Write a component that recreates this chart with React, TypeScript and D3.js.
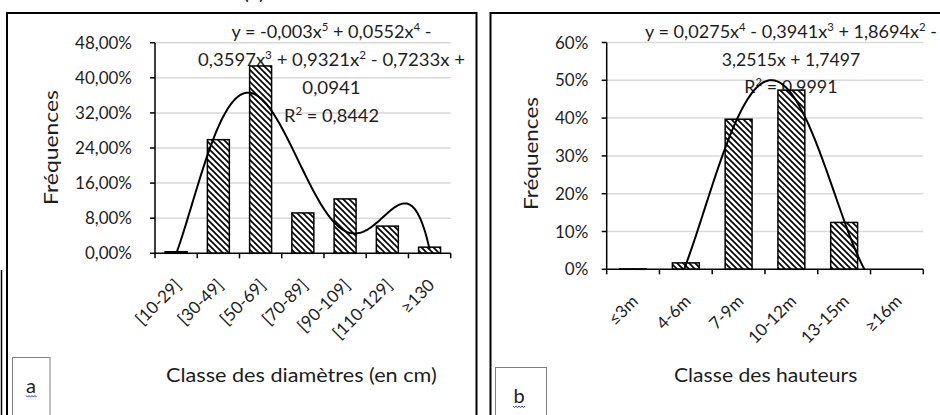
import React from "react";
import * as d3 from "d3";

// ---------- DATA ----------
const diamCategories = ["[10-29]", "[30-49]", "[50-69]", "[70-89]", "[90-109]", "[110-129]", "≥130"];
const diamFrequencies = [0.0035, 0.259, 0.427, 0.092, 0.124, 0.062, 0.014];
const diamTicks = [0, 0.08, 0.16, 0.24, 0.32, 0.4, 0.48];
const diamEquation = ["y = -0,003x^5 + 0,0552x^4 -", "0,3597x^3 + 0,9321x^2 - 0,7233x +", "0,0941", "R^2 = 0,8442"];
const diamAxisTitle = "Classe des diamètres (en cm)";

const heightCategories = ["≤3m", "4-6m", "7-9m", "10-12m", "13-15m", "≥16m"];
const heightFrequencies = [0.001, 0.017, 0.397, 0.474, 0.124, 0];
const heightTicks = [0, 0.1, 0.2, 0.3, 0.4, 0.5, 0.6];
const heightEquation = ["y = 0,0275x^4 - 0,3941x^3 + 1,8694x^2 -", "3,2515x + 1,7497", "R^2 = 0,9991"];
const heightAxisTitle = "Classe des hauteurs";

const yTitle = "Fréquences";

// ---------- HELPERS ----------
function polyfit(ys: number[], degree: number): number[] {
  const n = ys.length;
  const m = degree + 1;
  const A: number[][] = Array.from({ length: m }, () => new Array(m + 1).fill(0));
  for (let i = 0; i < n; i++) {
    const x = i + 1;
    for (let r = 0; r < m; r++) {
      for (let c = 0; c < m; c++) A[r][c] += Math.pow(x, r + c);
      A[r][m] += ys[i] * Math.pow(x, r);
    }
  }
  for (let col = 0; col < m; col++) {
    let piv = col;
    for (let r = col + 1; r < m; r++) if (Math.abs(A[r][col]) > Math.abs(A[piv][col])) piv = r;
    const tmp = A[col]; A[col] = A[piv]; A[piv] = tmp;
    for (let r = 0; r < m; r++) {
      if (r === col) continue;
      const f = A[r][col] / A[col][col];
      for (let c = col; c <= m; c++) A[r][c] -= f * A[col][c];
    }
  }
  return A.map((row, i) => row[m] / row[i]);
}
const polyEval = (coef: number[], x: number) => coef.reduce((s, c, k) => s + c * Math.pow(x, k), 0);

const FONT = "Lato, 'Open Sans', sans-serif";
const TEXT = "#1e1e1e";

type PanelCfg = {
  id: string;
  cats: string[];
  values: number[];
  ticks: number[];
  fmt: (v: number) => string;
  degree: number;
  eq: string[];
  title: string;
  plot: { left: number; right: number; top: number; bottom: number };
  yLabelEnd: number;
  yTitlePos: { x: number; cy: number; len: number };
  xTitlePos: { x1: number; x2: number; baseline: number };
  eqPos: { cx: number; baselines: number[]; widths: number[] };
  barPad: number;
};

function EqLine({ s, cx, y, w }: { s: string; cx: number; y: number; w: number }) {
  const parts = s.split(/\^(\d)/);
  const nodes: React.ReactNode[] = [];
  let shifted = false;
  parts.forEach((p, i) => {
    if (i % 2 === 1) {
      nodes.push(<tspan key={i} dy={-7} fontSize={11}>{p}</tspan>);
      shifted = true;
    } else if (p.length) {
      nodes.push(<tspan key={i} dy={shifted ? 7 : 0}>{p}</tspan>);
      shifted = false;
    }
  });
  return (
    <text x={cx - w / 2} y={y} textLength={w} lengthAdjust="spacingAndGlyphs" fontSize={17.5} fontFamily={FONT} fill={TEXT}>
      {nodes}
    </text>
  );
}

function Panel({ c }: { c: PanelCfg }) {
  const { plot } = c;
  const x = d3.scaleBand<string>().domain(c.cats).range([plot.left, plot.right]).paddingInner(c.barPad).paddingOuter(c.barPad / 2);
  const y = d3.scaleLinear().domain([0, c.ticks[c.ticks.length - 1]]).range([plot.bottom, plot.top]);
  const step = x.step();
  const boundaries = d3.range(c.cats.length + 1).map((i) => plot.left + i * step);
  const center = (cat: string) => (x(cat) as number) + x.bandwidth() / 2;

  const coef = polyfit(c.values, c.degree);
  const xt = d3.scaleLinear().domain([1, c.cats.length]).range([center(c.cats[0]), center(c.cats[c.cats.length - 1])]);
  const samples = d3.range(0, 301).map((i) => 1 + (i / 300) * (c.cats.length - 1));
  const line = d3.line<number>().x((t) => xt(t)).y((t) => y(polyEval(coef, t))).curve(d3.curveLinear);

  return (
    <g>
      <defs>
        <clipPath id={`clip-${c.id}`}>
          <rect x={plot.left} y={plot.top - 20} width={plot.right - plot.left} height={plot.bottom - plot.top + 20} />
        </clipPath>
      </defs>
      {/* gridlines */}
      {c.ticks.slice(1).map((t) => (
        <line key={t} x1={plot.left} x2={plot.right} y1={y(t)} y2={y(t)} stroke="#d9d9d9" strokeWidth={1.5} />
      ))}
      {/* equation */}
      {c.eq.map((s, i) => (
        <EqLine key={i} s={s} cx={c.eqPos.cx} y={c.eqPos.baselines[i]} w={c.eqPos.widths[i]} />
      ))}
      {/* bars */}
      {c.cats.map((cat, i) => (
        <rect key={cat} x={x(cat)} y={y(c.values[i])} width={x.bandwidth()} height={plot.bottom - y(c.values[i])}
          fill="url(#hatch)" stroke="#000" strokeWidth={1.5} />
      ))}
      {/* y axis */}
      <line x1={plot.left} x2={plot.left} y1={plot.top} y2={plot.bottom} stroke="#000" strokeWidth={1.5} />
      {c.ticks.map((t) => (
        <g key={t}>
          <line x1={plot.left - 5} x2={plot.left} y1={y(t)} y2={y(t)} stroke="#000" strokeWidth={1.5} />
          <text x={c.yLabelEnd} y={y(t)} dy="0.36em" textAnchor="end" fontSize={17} fontFamily={FONT} fill={TEXT}>{c.fmt(t)}</text>
        </g>
      ))}
      {/* x axis */}
      <line x1={plot.left} x2={plot.right} y1={plot.bottom} y2={plot.bottom} stroke="#000" strokeWidth={1.5} />
      {boundaries.map((b, i) => (
        <line key={i} x1={b} x2={b} y1={plot.bottom} y2={plot.bottom + 5} stroke="#000" strokeWidth={1.5} />
      ))}
      {c.cats.map((cat) => (
        <text key={cat} transform={`translate(${center(cat) + 6},${plot.bottom + 33}) rotate(-45)`} textAnchor="end"
          fontSize={17} fontFamily={FONT} fill={TEXT}>{cat}</text>
      ))}
      {/* trendline */}
      <path d={line(samples) || ""} fill="none" stroke="#000" strokeWidth={2} clipPath={`url(#clip-${c.id})`} />
      {/* titles */}
      <text transform={`translate(${c.yTitlePos.x},${c.yTitlePos.cy + c.yTitlePos.len / 2}) rotate(-90)`} x={0} y={0}
        textLength={c.yTitlePos.len} lengthAdjust="spacingAndGlyphs" fontSize={18.5} fontFamily={FONT} fill={TEXT}>{yTitle}</text>
      <text x={c.xTitlePos.x1} y={c.xTitlePos.baseline} textLength={c.xTitlePos.x2 - c.xTitlePos.x1} lengthAdjust="spacingAndGlyphs"
        fontSize={18.5} fontFamily={FONT} fill={TEXT}>{c.title}</text>
    </g>
  );
}

function Squiggle({ x1, x2, yb }: { x1: number; x2: number; yb: number }) {
  const pts: [number, number][] = [];
  for (let xx = x1, i = 0; xx <= x2; xx += 1.5, i++) pts.push([xx, yb + (i % 2 ? 1.6 : 0)]);
  return <path d={d3.line()(pts) || ""} fill="none" stroke="#2a3cff" strokeWidth={1} />;
}

const pctA = (v: number) => d3.format(".2%")(v).replace(".", ",");
const pctB = (v: number) => d3.format(".0%")(v);

export default function App() {
  const panelA: PanelCfg = {
    id: "a", cats: diamCategories, values: diamFrequencies, ticks: diamTicks, fmt: pctA, degree: 5,
    eq: diamEquation, title: diamAxisTitle,
    plot: { left: 155, right: 450.7, top: 42.7, bottom: 253.3 },
    yLabelEnd: 132,
    yTitlePos: { x: 58, cy: 147.5, len: 115 },
    xTitlePos: { x1: 166, x2: 436.7, baseline: 382 },
    eqPos: { cx: 331.5, baselines: [37.5, 66, 93.5, 121.5], widths: [200, 267, 58.4, 95] },
    barPad: 0.48,
  };
  const panelB: PanelCfg = {
    id: "b", cats: heightCategories, values: heightFrequencies, ticks: heightTicks, fmt: pctB, degree: 4,
    eq: heightEquation, title: heightAxisTitle,
    plot: { left: 606.7, right: 923.3, top: 42.5, bottom: 269.3 },
    yLabelEnd: 588.3,
    yTitlePos: { x: 538, cy: 153.5, len: 113 },
    xTitlePos: { x1: 674, x2: 857.3, baseline: 382 },
    eqPos: { cx: 791, baselines: [37.5, 65.5, 92.5], widths: [292, 138.4, 93.3] },
    barPad: 0.49,
  };
  return (
    <svg width={940} height={415} style={{ position: "fixed", left: 0, top: 0, background: "#fff" }}>
      <defs>
        <pattern id="hatch" patternUnits="userSpaceOnUse" width={6} height={6}>
          <rect width={6} height={6} fill="#fff" />
          <path d="M0,0 L6,6 M-3,3 L3,9 M3,-3 L9,3" stroke="#000" strokeWidth={1.7} />
        </pattern>
      </defs>
      <rect width={940} height={415} fill="#fff" />
      {/* partially visible title */}
      <text x={254} y={-1} textAnchor="middle" fontSize={22} fontFamily={FONT} fill={TEXT}>(a)</text>
      {/* frames */}
      <path d="M7,420 L7,13 L476.5,13 L476.5,420" fill="none" stroke="#000" strokeWidth={2} />
      <path d="M490.5,420 L490.5,13 L945,13" fill="none" stroke="#000" strokeWidth={2} />
      <line x1={1.5} x2={1.5} y1={270} y2={415} stroke="#000" strokeWidth={1.5} />
      <Panel c={panelA} />
      <Panel c={panelB} />
      {/* corner labels */}
      <rect x={12.5} y={357.5} width={37.5} height={70} fill="#fff" stroke="#7f7f7f" strokeWidth={1} />
      <text x={31} y={392.5} textAnchor="middle" fontSize={20} fontFamily={FONT} fill={TEXT}>a</text>
      <Squiggle x1={26} x2={37} yb={395.5} />
      <rect x={495.5} y={367.5} width={51} height={60} fill="#fff" stroke="#7f7f7f" strokeWidth={1} />
      <text x={519} y={403} textAnchor="middle" fontSize={20} fontFamily={FONT} fill={TEXT}>b</text>
      <Squiggle x1={513} x2={525} yb={406} />
    </svg>
  );
}
